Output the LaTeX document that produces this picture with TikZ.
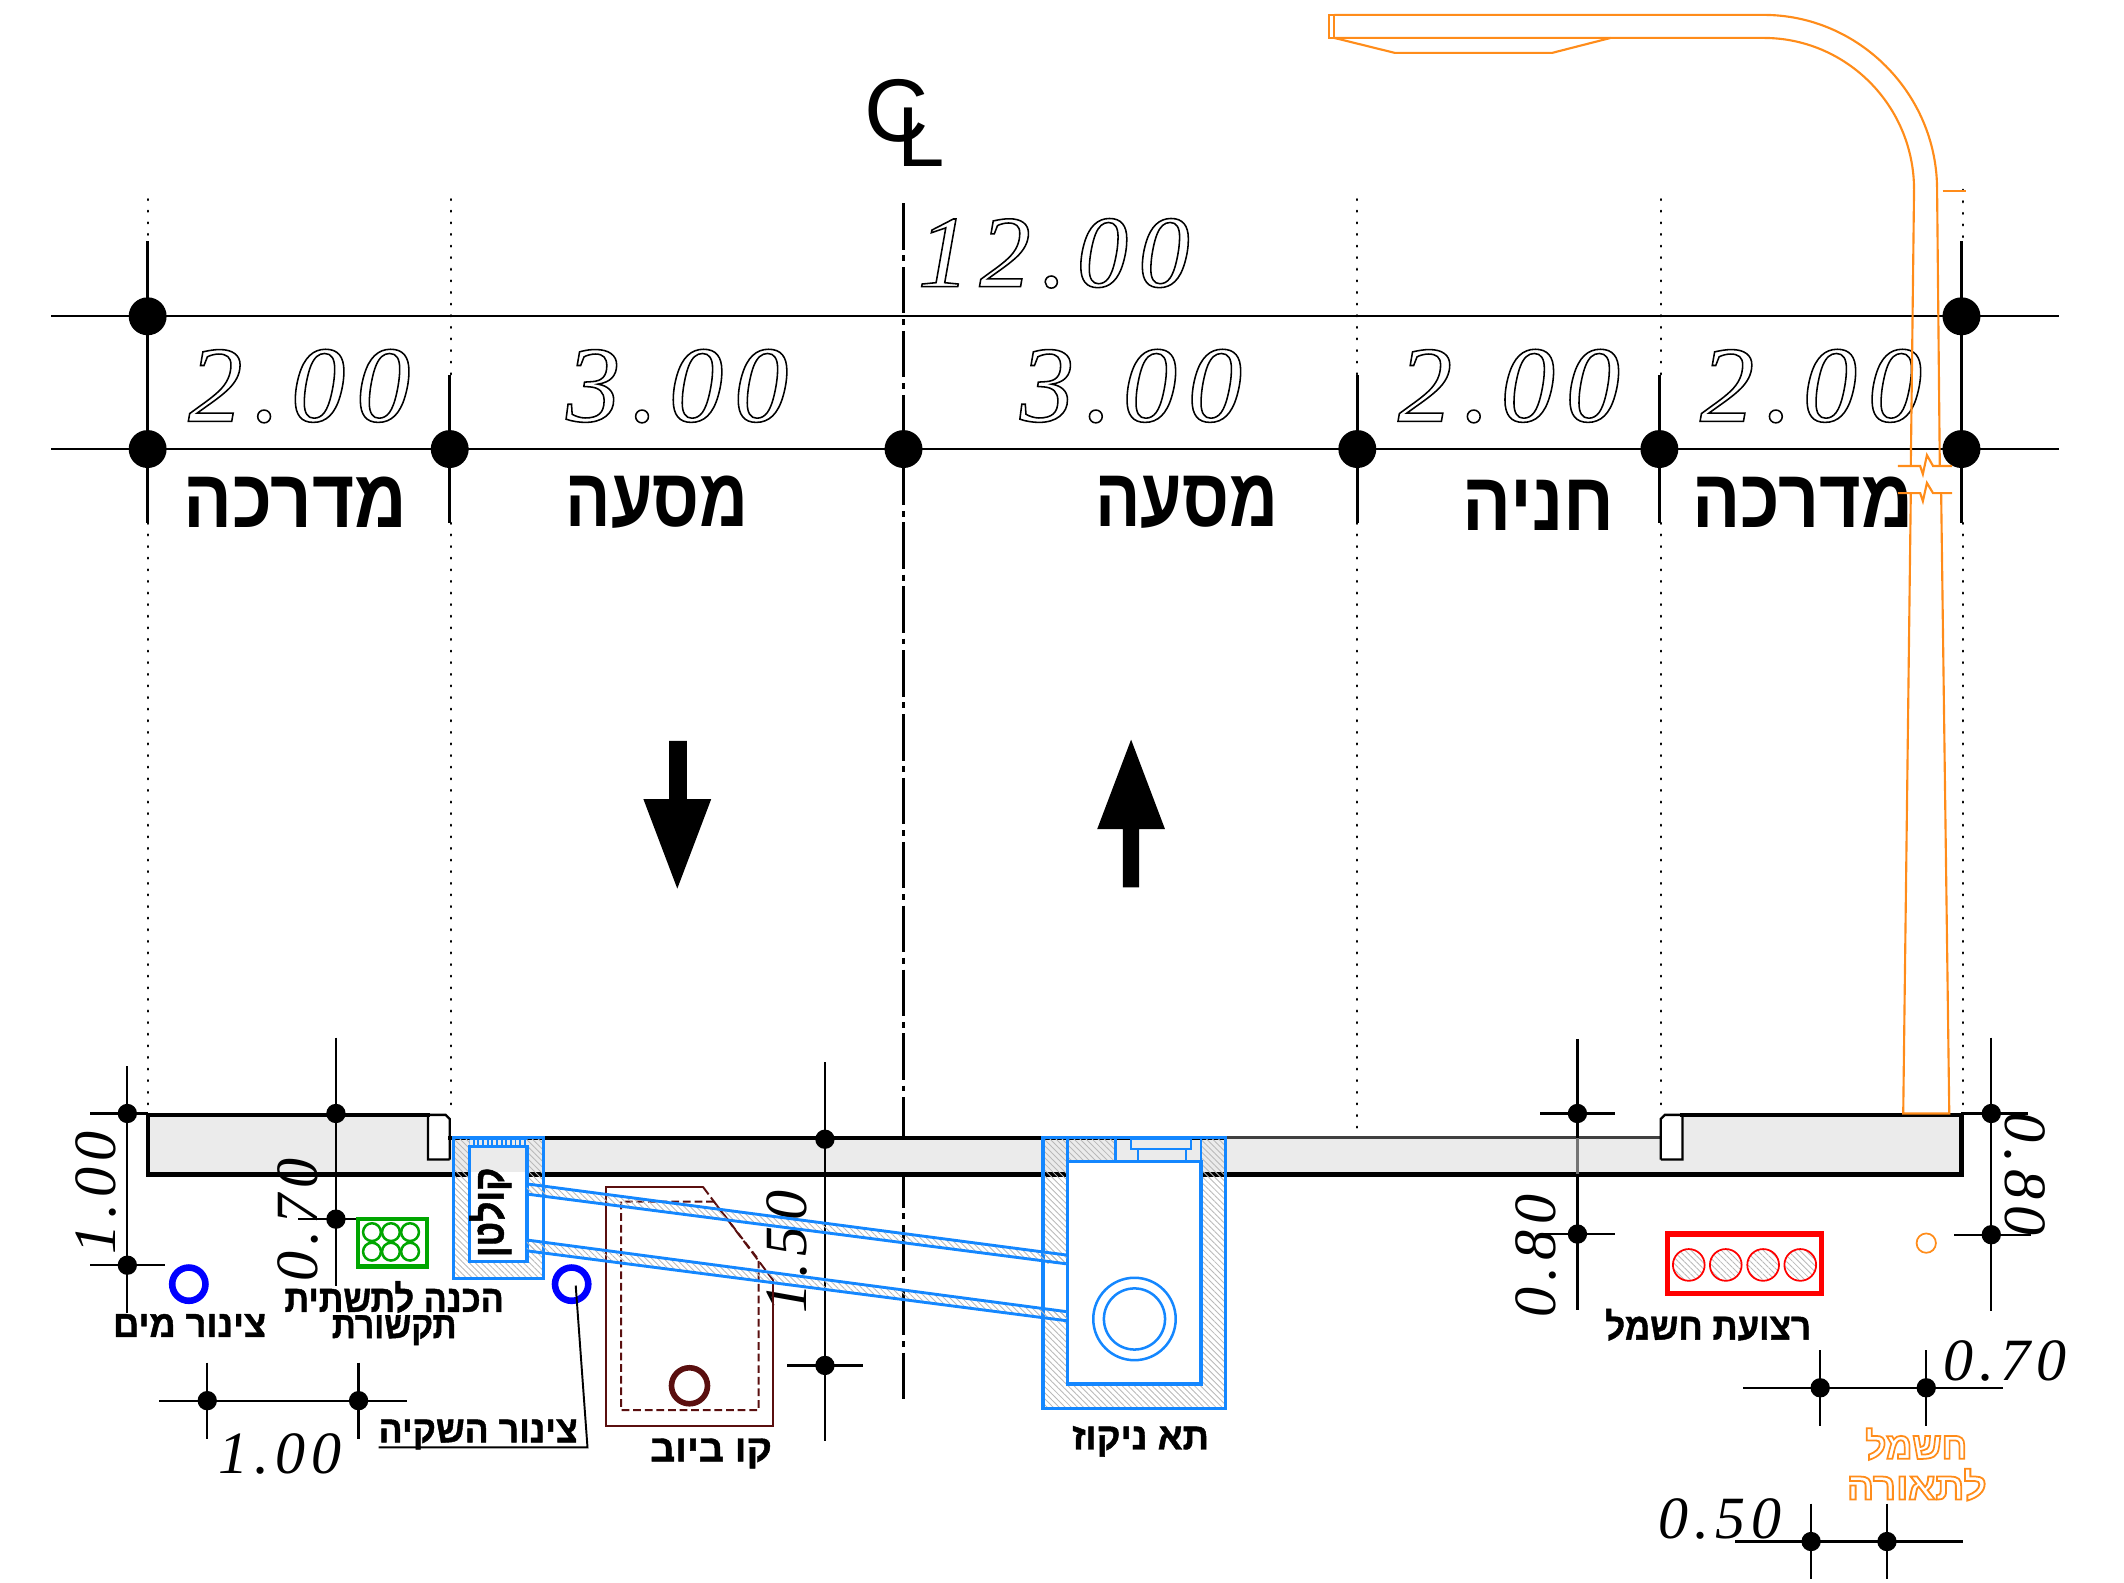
\documentclass[tikz,border=0pt]{standalone}
\usepackage{fontspec}
\usetikzlibrary{patterns.meta}
\TeXXeTstate=1
\newfontfamily\hebfont[Script=Hebrew]{Liberation Sans}
\newfontfamily\hebheavy[Script=Hebrew,FakeBold=1.2]{Liberation Sans}
\newfontfamily\dimfont[LetterSpace=10]{Liberation Serif}
\newfontfamily\clfont{Liberation Sans}
\newlength\un \setlength\un{0.7pt}
\newcommand{\HB}[3]{\resizebox{#1\un}{#2\height}{\hebfont\bfseries #3}}
\newcommand{\HS}[3]{\resizebox{#1\un}{#2\height}{\hebheavy\bfseries #3}}
\newcommand{\HO}[3]{\resizebox{#1\un}{#2\height}{\hebfont\bfseries #3}}
\newcommand{\hollowtext}[2]{\special{pdf:code 1 Tr #1 w}#2\special{pdf:code 0 Tr}}
\definecolor{lamp}{HTML}{FF8C1A}
\definecolor{pipeblue}{HTML}{1487FF}
\definecolor{sewer}{HTML}{5A0F0F}
\definecolor{slabgray}{HTML}{EBEBEB}
\tikzset{
  thinline/.style={line width=1.2pt,black},
  dotline/.style={line width=1.1pt,line cap=round,dash pattern=on 0.5pt off 5.5pt,black},
  thick outline/.style={line width=2.2pt,black,line cap=rect},
  centerline/.style={line width=1.25pt,dash pattern=on 24pt off 3pt on 3pt off 3pt},
  bigdim/.style={font=\fontsize{56pt}{60pt}\dimfont\itshape,inner sep=0pt},
  smalldim/.style={font=\fontsize{31pt}{34pt}\dimfont\itshape,inner sep=0pt},
  bigheb/.style={font=\fontsize{39pt}{42pt},inner sep=0pt},
  smallheb/.style={font=\fontsize{15pt}{18pt},inner sep=0pt},
  hatchwall/.style={pattern={Lines[angle=135,distance=2.2pt,line width=.45pt]},pattern color=gray!55},
  bluewall/.style={draw=pipeblue,line width=1.7pt},
  lampline/.style={draw=lamp,line width=1.1pt},
  sewerline/.style={draw=sewer,line width=1pt},
}
\begin{document}
\begin{tikzpicture}[x=0.7pt,y=-0.7pt]
\useasboundingbox (0,0) rectangle (1568,1168);
% dotted extension lines
\draw[dotline] (109,147)--(109,178) (109,386)--(109,822);
\draw[dotline] (333,147)--(333,277) (333,386)--(333,822);
\draw[dotline] (1002,147)--(1002,277) (1002,386)--(1002,838);
\draw[dotline] (1226,147)--(1226,277) (1226,386)--(1226,822);
\draw[dotline] (1449,140)--(1449,178) (1449,386)--(1449,822);
% centre line
\draw[centerline] (667,150)--(667,1036);
% top dimension lines
\draw[thinline] (38,233.5)--(1520,233.5);
\draw[thinline] (38,331.5)--(1520,331.5);
\draw[thinline,line width=1.3pt] (109,178)--(109,386) (1448,178)--(1448,386);
\foreach \x in {332,1002,1225} \draw[thinline,line width=1.3pt] (\x,277)--(\x,386);
\foreach \x/\y in {109/233.5,1448/233.5,109/331.5,332/331.5,667/331.5,1002/331.5,1225/331.5,1448/331.5}
  \fill (\x,\y) circle[radius=9.8pt];
% CL symbol
\node[inner sep=0pt,font=\fontsize{46pt}{48pt}\clfont] (clc) at (662,82) {C};
\node[inner sep=0pt,font=\fontsize{44pt}{48pt}\clfont] (cll) at (680,101) {L};
% top labels
\node[bigdim,font=\fontsize{53pt}{60pt}\dimfont\itshape] (d12) at (778,187) {\hollowtext{0.8}{12.00}};
\node[bigdim] (d1) at (221,285) {\hollowtext{0.8}{2.00}};
\node[bigdim] (d2) at (500,285) {\hollowtext{0.8}{3.00}};
\node[bigdim] (d3) at (835,285) {\hollowtext{0.8}{3.00}};
\node[bigdim] (d4) at (1114,285) {\hollowtext{0.8}{2.00}};
\node[bigdim] (d5) at (1337,285) {\hollowtext{0.8}{2.00}};
\node[bigheb] (h1) at (218,371) {\HB{165}{1.1}{\beginR מדרכה\endR}};
\node[bigheb] (h2) at (485,371) {\HB{135}{1.1}{\beginR מסעה\endR}};
\node[bigheb] (h3) at (876,371) {\HB{135}{1.1}{\beginR מסעה\endR}};
\node[bigheb] (h4) at (1136,373) {\HB{112}{1.1}{\beginR חניה\endR}};
\node[bigheb] (h5) at (1331,371) {\HB{163}{1.1}{\beginR מדרכה\endR}};
% traffic arrows
\fill (494,547)--(507,547)--(507,590)--(525,590)--(500,656)--(475,590)--(494,590)--cycle;
\fill (829,655)--(841,655)--(841,612)--(860,612)--(835,546)--(810,612)--(829,612)--cycle;
% slab
\fill[slabgray] (109,823)--(316,823)--(316,856)--(332,856)--(332,840)--(1226,840)--(1226,856)--(1242,856)--(1242,823)--(1448,823)--(1448,867)--(109,867)--cycle;
\draw[thick outline] (316,823)--(109,823)--(109,867)--(1448,867)--(1448,823)--(1242,823);
\draw[thick outline] (332,840)--(904,840);
\draw[line width=1.5pt,black!75] (904,840)--(1226,840);
\draw[thinline] (316,823)--(316,856)--(332,856) (316,823)--(329,823)--(332,826)--(332,856);
\draw[thinline] (1242,823)--(1242,856)--(1226,856) (1242,823)--(1229,823)--(1226,826)--(1226,856);
% lower dimensions
\draw[thinline] (94,787)--(94,969) (66.6,822)--(109,822) (66.6,934)--(122,934);
\draw[thinline] (248,766)--(248,949) (220,900)--(275.6,900);
\draw[thinline] (117.5,1034)--(300.6,1034) (153,1006)--(153,1062) (264.7,1006)--(264.7,1062);
\draw[thinline] (609,784)--(609,1064) (581,1008)--(637,1008);
\draw[thinline] (1164.5,767)--(1164.5,840) (1164.5,867)--(1164.5,967) (1137,822)--(1192.5,822) (1137,911)--(1192.5,911);
\draw[line width=1.2pt,black!55] (1164.5,840)--(1164.5,867);
\draw[thinline] (1470,766)--(1470,968) (1448,822)--(1497,822) (1442.6,911.5)--(1499,911.5);
\draw[thinline] (1287,1024.5)--(1478.5,1024.5) (1343.7,996.6)--(1343.7,1052.7) (1422,996.6)--(1422,1052.7);
\draw[thinline] (1281,1138)--(1449,1138) (1337,1110)--(1337,1166) (1393,1110)--(1393,1166);
\foreach \x/\y in {94/822,94/934,248/822,248/900,153/1034,264.7/1034,609/841,609/1008,1164.5/822,1164.5/911,1470/822,1470/911.5,1343.7/1024.5,1422/1024.5,1337/1138,1393/1138}
  \fill (\x,\y) circle[radius=5pt];
\node[smalldim,rotate=90] (v100) at (71,881) {1.00};
\node[smalldim,rotate=90] (v070) at (220,900.6) {0.70};
\node[smalldim] (h100) at (207,1073) {1.00};
\node[smalldim,rotate=90] (v150) at (581,924) {1.50};
\node[smalldim,rotate=90] (v080) at (1134,927) {0.80};
\node[smalldim,rotate=-90] (w080) at (1495,867) {0.80};
\node[smalldim] (h070) at (1480,1005) {0.70};
\node[smalldim] (h050) at (1270,1121) {0.50};
% water / irrigation pipes
\draw[blue,line width=3.4pt] (139.4,948) circle[radius=8.6pt];
\draw[blue,line width=3.4pt] (422,948) circle[radius=8.6pt];
% communications duct
\draw[green!65!black,line width=2.2pt] (264.5,900) rectangle (315,935);
\foreach \x in {274.6,288.6,302.7} \foreach \y in {909.6,924}
  \draw[green!65!black,line width=1.3pt] (\x,\y) circle[radius=4.6pt];
% sewer line
\draw[sewerline] (518.8,876)--(447.5,876)--(447.5,1052.7)--(570.7,1052.7)--(570.7,945);
\draw[sewerline,dash pattern=on 5pt off 2pt] (518.8,876)--(570.7,945);
\draw[sewerline,dash pattern=on 4pt off 2pt] (527,887)--(458.5,887)--(458.5,1041)--(560,1041)--(560,930)--cycle;
\draw[sewer,line width=2.9pt] (509,1023) circle[radius=9.3pt];
% left chamber
\path[hatchwall] (334.6,839.5)--(346.7,839.5)--(346.7,931.4)--(389,931.4)--(389,839.5)--(401,839.5)--(401,943.6)--(334.6,943.6)--cycle;
\fill[white] (347.8,865)--(388,865)--(388,869.5)--(347.8,869.5)--cycle;
\fill[white] (389,881)--(401,881)--(401,916)--(389,916)--cycle;
\path[pattern={Lines[angle=90,distance=2.4pt,line width=1pt]},pattern color=pipeblue] (346.7,840) rectangle (389,846.5);
\draw[bluewall] (334.6,839.5) rectangle (401,943.6);
\draw[bluewall] (346.7,846.5)--(346.7,931.4)--(389,931.4)--(389,846.5)--cycle;
\draw[pipeblue,line width=1.7pt] (346.7,840)--(389,840);
\node[smallheb,rotate=90] (kolten) at (362,895) {\HS{66}{1.45}{\beginR קולטן\endR}};
% big chamber
\fill[white] (788,857.5) rectangle (886.6,1021.7);
\path[hatchwall] (770,839.6)--(823.6,839.6)--(823.6,857.5)--(788,857.5)--(788,1021.7)--(886.6,1021.7)--(886.6,839.6)--(904.5,839.6)--(904.5,1039.6)--(770,1039.6)--cycle;
\fill[white] (771,933)--(787,933)--(787,968)--(771,968)--cycle;
\draw[bluewall] (770,839.6) rectangle (904.5,1039.6);
\draw[bluewall] (788,857.5) rectangle (886.6,1021.7);
\draw[pipeblue,line width=1.2pt] (788,840)--(788,857.5) (823.6,840)--(823.6,857.5) (835,841) rectangle (879,848) (840,848)--(840,857.5) (875.5,848)--(875.5,857.5) (886.6,840)--(886.6,857.5);
\draw[pipeblue,line width=1.3pt] (837.5,973.7) circle[radius=21.3pt];
\draw[pipeblue,line width=1.3pt] (837.5,973.7) circle[radius=15.8pt];
% connecting pipes
\path[hatchwall] (389,874)--(787.4,926.5)--(787.4,933)--(389,881.5)--cycle;
\path[hatchwall] (389,915.4)--(787.4,968.3)--(787.4,975)--(389,923.4)--cycle;
\draw[pipeblue,line width=1.5pt] (389,874)--(787.4,926.5) (389,881.5)--(787.4,933);
\draw[pipeblue,line width=1.5pt] (389,915.4)--(787.4,968.3) (389,923.4)--(787.4,975);
% electric duct
\draw[red,line width=2.8pt] (1231,911) rectangle (1344.5,955);
\foreach \x in {1246.7,1274,1301.6,1329} {
  \path[hatchwall] (\x,933.8) circle[radius=8.2pt];
  \draw[red,line width=.9pt] (\x,933.8) circle[radius=8.2pt];
}
\draw[lamp,line width=.9pt] (1422,917.7) circle[radius=5pt];
% leader
\draw[thinline,line width=1pt] (279.5,1068.5)--(433.7,1068.5)--(425,949);
% lower labels
\node[smallheb] (t1) at (140,978.5) {\HS{113}{1.3}{\beginR צינור מים\endR}};
\node[smallheb] (t2) at (291,957.5) {\HS{162}{1.3}{\beginR הכנה לתשתית\endR}};
\node[smallheb] (t3) at (291,982) {\HS{92}{1.3}{\beginR תקשורת\endR}};
\node[smallheb] (t4) at (353,1059) {\HS{147}{1.3}{\beginR צינור השקיה\endR}};
\node[smallheb] (t5) at (525,1073) {\HS{90}{1.3}{\beginR קו ביוב\endR}};
\node[smallheb] (t6) at (842,1064) {\HS{101}{1.3}{\beginR תא ניקוז\endR}};
\node[smallheb] (t7) at (1261,978) {\HS{152}{1.3}{\beginR רצועת חשמל\endR}};
\node[smallheb,text=lamp] (t8) at (1414.7,1066) {\HO{75}{1.3}{\hollowtext{0.7}{\beginR חשמל\endR}}};
\node[smallheb,text=lamp] (t9) at (1415,1096) {\HO{103}{1.3}{\hollowtext{0.7}{\beginR לתאורה\endR}}};
% lamp post
\draw[lampline] (981,11) rectangle (985,28);
\draw[lampline] (985,11)--(1302,11) .. controls (1372,11) and (1430,69) .. (1430,140)--(1432,344);
\draw[lampline] (985,28)--(1302,28) .. controls (1363,28) and (1413,78) .. (1413,140)--(1410.6,344);
\draw[lampline] (985,28)--(1029.5,39)--(1146,39)--(1189,28);
\draw[lampline] (1434,141)--(1451,141);
\draw[lampline] (1401,344)--(1417.5,344)--(1419.5,350)--(1422.5,336)--(1427,344)--(1441,344);
\draw[lampline] (1401,364)--(1417.5,364)--(1419.5,370)--(1422.5,356.5)--(1427,364)--(1441,364);
\draw[lampline] (1410.6,364)--(1405,822)--(1439,822)--(1433,364);
\end{tikzpicture}
\end{document}
